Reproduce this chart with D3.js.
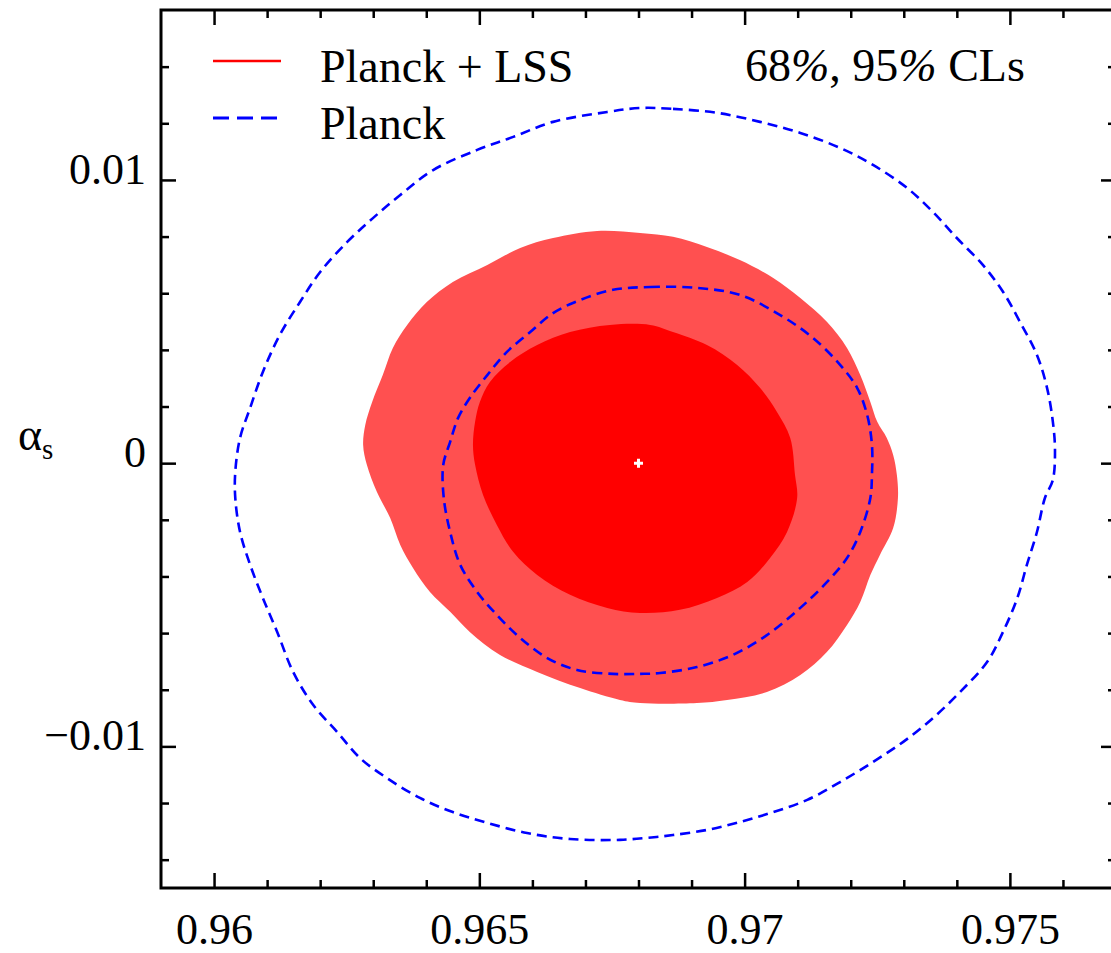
<!DOCTYPE html>
<html>
<head>
<meta charset="utf-8">
<script src="https://cdn.jsdelivr.net/npm/d3@7"></script>
<style>
  body { margin: 0; background: #fff; }
  svg { display: block; }
  text { font-family: "Liberation Serif", "Times New Roman", serif; fill: #000; }
</style>
</head>
<body>
<svg id="chart" width="1111" height="953"></svg>
<script>
// Axis ranges and tick labels
const nsDomain = [0.959, 0.977];
const alphaDomain = [-0.015, 0.016];
const nsTicks = [0.96, 0.965, 0.97, 0.975];
const alphaTicks = [-0.01, 0, 0.01];
const nsMinorTicks = [0.961, 0.962, 0.963, 0.964, 0.966, 0.967, 0.968, 0.969, 0.971, 0.972, 0.973, 0.974, 0.976];
const alphaMinorTicks = [-0.014, -0.012, -0.008, -0.006, -0.004, -0.002, 0.002, 0.004, 0.006, 0.008, 0.012, 0.014];

// Best-fit point (n_s, alpha_s)
const bestFit = [0.968, 0.0];

// Planck + LSS, 95% CL region boundary (n_s, alpha_s)
const lss95 = [
  [0.96722, 0.00820], [0.96803, 0.00813], [0.96865, 0.00799], [0.96929, 0.00763],
  [0.96991, 0.00717], [0.97054, 0.00654], [0.97105, 0.00583], [0.97155, 0.00499],
  [0.97193, 0.00407], [0.97218, 0.00311], [0.97237, 0.00216], [0.97250, 0.00146],
  [0.97268, 0.00089], [0.97280, 0.00029], [0.97287, -0.00042], [0.97289, -0.00123],
  [0.97280, -0.00229], [0.97255, -0.00324], [0.97237, -0.00395], [0.97218, -0.00490],
  [0.97193, -0.00571], [0.97155, -0.00667], [0.97105, -0.00748], [0.97042, -0.00808],
  [0.96967, -0.00836], [0.96910, -0.00847], [0.96803, -0.00847], [0.96765, -0.00836],
  [0.96690, -0.00794], [0.96609, -0.00737], [0.96539, -0.00677], [0.96482, -0.00596],
  [0.96445, -0.00525], [0.96407, -0.00455], [0.96375, -0.00370], [0.96351, -0.00289],
  [0.96332, -0.00194], [0.96307, -0.00102], [0.96288, -0.00006], [0.96281, 0.00064],
  [0.96285, 0.00135], [0.96298, 0.00216], [0.96318, 0.00311], [0.96337, 0.00407],
  [0.96364, 0.00488], [0.96401, 0.00569], [0.96450, 0.00640], [0.96515, 0.00700],
  [0.96577, 0.00760], [0.96639, 0.00795]
];

// Planck + LSS, 68% CL region boundary
const lss68 = [
  [0.96746, 0.00488], [0.96822, 0.00488], [0.96865, 0.00463], [0.96929, 0.00417],
  [0.96986, 0.00347], [0.97029, 0.00266], [0.97061, 0.00181], [0.97086, 0.00089],
  [0.97095, -0.00042], [0.97099, -0.00123], [0.97080, -0.00243], [0.97048, -0.00335],
  [0.97005, -0.00420], [0.96948, -0.00476], [0.96878, -0.00518], [0.96803, -0.00529],
  [0.96741, -0.00511], [0.96671, -0.00465], [0.96609, -0.00395], [0.96564, -0.00314],
  [0.96533, -0.00218], [0.96507, -0.00112], [0.96492, -0.00006], [0.96488, 0.00064],
  [0.96492, 0.00146], [0.96501, 0.00216], [0.96520, 0.00287], [0.96558, 0.00357],
  [0.96609, 0.00417], [0.96671, 0.00463]
];

// Planck alone, 95% CL contour
const planck95 = [
  [0.96803, 0.01254], [0.96865, 0.01251], [0.96948, 0.01237], [0.97029, 0.01205],
  [0.97105, 0.01166], [0.97180, 0.01113], [0.97242, 0.01053], [0.97306, 0.00972],
  [0.97355, 0.00887], [0.97400, 0.00795], [0.97449, 0.00700], [0.97487, 0.00605],
  [0.97519, 0.00499], [0.97551, 0.00382], [0.97570, 0.00266], [0.97581, 0.00146],
  [0.97585, 0.00047], [0.97581, -0.00059], [0.97566, -0.00123], [0.97551, -0.00243],
  [0.97532, -0.00359], [0.97514, -0.00476], [0.97487, -0.00596], [0.97457, -0.00702],
  [0.97406, -0.00808], [0.97355, -0.00900], [0.97299, -0.00984], [0.97242, -0.01055],
  [0.97180, -0.01126], [0.97118, -0.01189], [0.97054, -0.01232], [0.96991, -0.01267],
  [0.96929, -0.01295], [0.96865, -0.01313], [0.96816, -0.01323], [0.96765, -0.01330],
  [0.96671, -0.01327], [0.96590, -0.01306], [0.96515, -0.01270], [0.96450, -0.01232],
  [0.96388, -0.01182], [0.96326, -0.01112], [0.96275, -0.01041], [0.96232, -0.00949],
  [0.96187, -0.00854], [0.96149, -0.00737], [0.96119, -0.00596], [0.96092, -0.00476],
  [0.96068, -0.00359], [0.96049, -0.00243], [0.96040, -0.00123], [0.96040, -0.00031],
  [0.96049, 0.00089], [0.96068, 0.00195], [0.96092, 0.00322], [0.96124, 0.00453],
  [0.96162, 0.00569], [0.96200, 0.00675], [0.96251, 0.00781], [0.96300, 0.00866],
  [0.96351, 0.00947], [0.96413, 0.01035], [0.96496, 0.01106], [0.96564, 0.01152],
  [0.96639, 0.01205], [0.96741, 0.01240]
];

// Planck alone, 68% CL contour
const planck68 = [
  [0.96752, 0.00612], [0.96822, 0.00622], [0.96910, 0.00619], [0.96991, 0.00594],
  [0.97067, 0.00523], [0.97129, 0.00442], [0.97180, 0.00347], [0.97212, 0.00266],
  [0.97231, 0.00170], [0.97240, 0.00064], [0.97240, -0.00042], [0.97237, -0.00123],
  [0.97218, -0.00243], [0.97193, -0.00335], [0.97155, -0.00420], [0.97105, -0.00511],
  [0.97042, -0.00607], [0.96978, -0.00677], [0.96910, -0.00720], [0.96841, -0.00741],
  [0.96803, -0.00744], [0.96752, -0.00744], [0.96684, -0.00730], [0.96628, -0.00688],
  [0.96577, -0.00617], [0.96533, -0.00536], [0.96496, -0.00455], [0.96464, -0.00359],
  [0.96445, -0.00243], [0.96433, -0.00123], [0.96432, -0.00006], [0.96445, 0.00075],
  [0.96460, 0.00160], [0.96482, 0.00230], [0.96515, 0.00311], [0.96552, 0.00393],
  [0.96596, 0.00463], [0.96639, 0.00530], [0.96690, 0.00576]
];

const legendItems = [
  { label: "Planck + LSS", kind: "solid" },
  { label: "Planck", kind: "dashed" }
];

const colors = { lss95: "#ff5050", lss68: "#ff0000", planck: "#0000ff" };

// Plot frame in pixels
const frame = { left: 161, right: 1116, top: 10, bottom: 888 };

const svg = d3.select("#chart");

const x = d3.scaleLinear().domain(nsDomain).range([frame.left, frame.right]);
const y = d3.scaleLinear().domain(alphaDomain).range([frame.bottom, frame.top]);

const contour = d3.line()
  .x(d => x(d[0]))
  .y(d => y(d[1]))
  .curve(d3.curveCatmullRomClosed.alpha(0.5));

const plot = svg.append("g");

// Filled Planck + LSS regions
plot.append("path").attr("d", contour(lss95)).attr("fill", colors.lss95);
plot.append("path").attr("d", contour(lss68)).attr("fill", colors.lss68);

// Planck-only contours, dashed
[planck68, planck95].forEach(c => {
  plot.append("path")
    .attr("d", contour(c))
    .attr("fill", "none")
    .attr("stroke", colors.planck)
    .attr("stroke-width", 2.6)
    .attr("stroke-dasharray", "10,6");
});

// Best-fit marker
plot.append("path")
  .attr("d", d3.symbol(d3.symbolCross, 45)())
  .attr("transform", `translate(${x(bestFit[0])},${y(bestFit[1])})`)
  .attr("fill", "#fff");

// Axes: ticks point inward on all four sides
const fmt = d => d === 0 ? "0" : d3.format("~g")(d);
const tickStyle = g => {
  g.select(".domain").remove();
  g.selectAll(".tick line").attr("stroke", "#000").attr("stroke-width", 2.5);
  g.selectAll("text").attr("font-size", 44).attr("font-family", '"Liberation Serif", serif').attr("fill", "#000");
};

// bottom
svg.append("g").attr("transform", `translate(0,${frame.bottom})`)
  .call(d3.axisBottom(x).tickValues(nsTicks).tickSize(-15).tickPadding(25).tickFormat(fmt))
  .call(tickStyle)
  .call(g => g.selectAll("text").attr("dy", "0.71em"));
svg.append("g").attr("transform", `translate(0,${frame.bottom})`)
  .call(d3.axisBottom(x).tickValues(nsMinorTicks).tickSize(-8).tickFormat(""))
  .call(tickStyle);
// top
svg.append("g").attr("transform", `translate(0,${frame.top})`)
  .call(d3.axisTop(x).tickValues(nsTicks).tickSize(-15).tickFormat(""))
  .call(tickStyle);
svg.append("g").attr("transform", `translate(0,${frame.top})`)
  .call(d3.axisTop(x).tickValues(nsMinorTicks).tickSize(-8).tickFormat(""))
  .call(tickStyle);
// left
svg.append("g").attr("transform", `translate(${frame.left},0)`)
  .call(d3.axisLeft(y).tickValues(alphaTicks).tickSize(-15).tickPadding(15).tickFormat(fmt))
  .call(tickStyle)
  .call(g => g.selectAll("text").attr("dy", "0.07em"));
svg.append("g").attr("transform", `translate(${frame.left},0)`)
  .call(d3.axisLeft(y).tickValues(alphaMinorTicks).tickSize(-8).tickFormat(""))
  .call(tickStyle);
// right
svg.append("g").attr("transform", `translate(${frame.right},0)`)
  .call(d3.axisRight(y).tickValues(alphaTicks).tickSize(-15).tickFormat(""))
  .call(tickStyle);
svg.append("g").attr("transform", `translate(${frame.right},0)`)
  .call(d3.axisRight(y).tickValues(alphaMinorTicks).tickSize(-8).tickFormat(""))
  .call(tickStyle);

// Frame
svg.append("rect")
  .attr("x", frame.left).attr("y", frame.top)
  .attr("width", frame.right - frame.left).attr("height", frame.bottom - frame.top)
  .attr("fill", "none").attr("stroke", "#000").attr("stroke-width", 3);

// Y-axis label: alpha_s
const yl = svg.append("text").attr("x", 18).attr("y", 450).attr("font-size", 46);
yl.append("tspan").text("α");
yl.append("tspan").attr("font-size", 29).attr("dy", 9).text("s");

// Legend
const legend = svg.append("g");
legendItems.forEach((item, i) => {
  const ly = 61 + i * 57;
  legend.append("line")
    .attr("x1", 213).attr("x2", 281).attr("y1", ly).attr("y2", ly)
    .attr("stroke", item.kind === "solid" ? colors.lss68 : colors.planck)
    .attr("stroke-width", item.kind === "solid" ? 2.5 : 2.8)
    .attr("stroke-dasharray", item.kind === "solid" ? null : "16,8");
  legend.append("text")
    .attr("x", 320).attr("y", ly + 21)
    .attr("font-size", 46)
    .text(item.label);
});

// Confidence-level note
const cl = svg.append("text").attr("x", 745).attr("y", 81).attr("font-size", 46);
cl.append("tspan").text("68");
cl.append("tspan").attr("font-style", "italic").text("%");
cl.append("tspan").text(", 95");
cl.append("tspan").attr("font-style", "italic").text("%");
cl.append("tspan").text(" CLs");
</script>
</body>
</html>
